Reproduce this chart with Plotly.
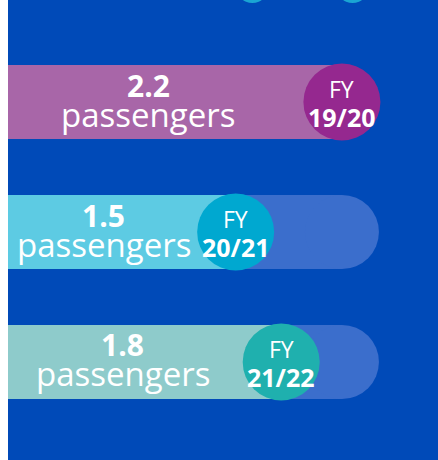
import plotly.graph_objects as go

# ---- data ----
years = ["19/20", "20/21", "21/22"]
passengers = [2.2, 1.5, 1.8]
number_labels = ["2.2", "1.5", "1.8"]
unit_label = "passengers"

fill_colors = ["#A866A8", "#5DCBE3", "#8ECBCB"]
circle_colors = ["#95288F", "#00A8D0", "#1FB0AE"]
bg_blue = "#004AB8"
track_color = "#3B6ECC"

rows = list(range(len(years)))
track_len = max(passengers)
bar_w = 0.57

fig = go.Figure()

# background track (rect + round cap)
fig.add_trace(go.Bar(
    y=rows, x=[track_len] * len(rows), orientation="h", width=bar_w,
    marker=dict(color=track_color, line=dict(width=0)), hoverinfo="skip",
    showlegend=False))
fig.add_trace(go.Scatter(
    y=rows, x=[track_len] * len(rows), mode="markers",
    marker=dict(size=74, color=track_color, line=dict(width=0)),
    hoverinfo="skip", showlegend=False, cliponaxis=False))

# value fill
fig.add_trace(go.Bar(
    y=rows, x=passengers, orientation="h", width=bar_w,
    marker=dict(color=fill_colors, line=dict(width=0)),
    hoverinfo="skip", showlegend=False))

# year circles
fig.add_trace(go.Scatter(
    y=rows, x=passengers, mode="markers",
    marker=dict(size=77, color=circle_colors, line=dict(width=0)),
    hoverinfo="skip", showlegend=False, cliponaxis=False))

font = "Open Sans"
annotations = []
for r, v, num, fy in zip(rows, passengers, number_labels, years):
    cx = v * 0.42
    annotations.append(dict(x=cx, y=r, xref="x", yref="y", text=f"<b>{num}</b>",
                            showarrow=False, yshift=17, borderpad=0,
                            font=dict(family=font, size=30, color="white")))
    annotations.append(dict(x=cx, y=r, xref="x", yref="y", text=unit_label,
                            showarrow=False, yshift=-12, borderpad=0,
                            font=dict(family=font, size=33, color="white")))
    annotations.append(dict(x=v, y=r, xref="x", yref="y", text="FY",
                            showarrow=False, yshift=13, borderpad=0,
                            font=dict(family=font, size=23, color="white")))
    annotations.append(dict(x=v, y=r, xref="x", yref="y", text=f"<b>{fy}</b>",
                            showarrow=False, yshift=-15, borderpad=0,
                            font=dict(family=font, size=25, color="white")))

# decorative partial circles peeking in from above
shapes = []
for xc in [1.61, 2.27]:
    shapes.append(dict(type="circle", xref="x", yref="paper",
                       xsizemode="pixel", ysizemode="pixel",
                       xanchor=xc, yanchor=1.0 + 13.5 / 460,
                       x0=-16.5, x1=16.5, y0=-16.5, y1=16.5,
                       fillcolor="#1AA5D3", line=dict(width=0), layer="above"))

fig.update_layout(
    width=438, height=460,
    margin=dict(l=8, r=0, t=0, b=0),
    paper_bgcolor="white", plot_bgcolor=bg_blue,
    barmode="overlay",
    xaxis=dict(range=[0, 2.833], visible=False, fixedrange=True),
    yaxis=dict(range=[2.754, -0.785], visible=False, fixedrange=True),
    annotations=annotations, shapes=shapes,
)

fig.write_html("out.html", config={"displayModeBar": False},
               post_script="document.body.style.margin='0';document.body.style.overflow='hidden';")
